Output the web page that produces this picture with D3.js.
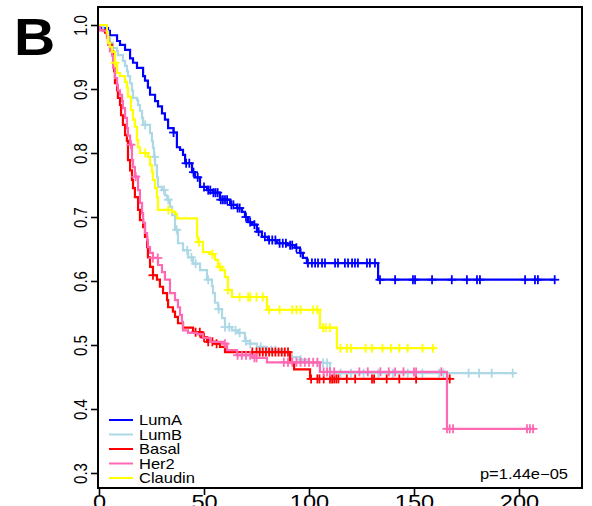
<!DOCTYPE html>
<meta charset="utf-8" />
<style>
  body {
    margin: 0px;
    padding: 0px;
    background: #fff;
  }
  svg {
    display: block;
    font-family: "Liberation Sans", Arial, sans-serif;
  }
  .curve {
    fill: none;
    stroke-width: 2.2px;
  }
  .censor {
    stroke-width: 1.8px;
  }
</style>

<svg width="592" height="506"></svg>

<script src="https://d3js.org/d3.v7.min.js"></script>
<script>
  // step points [months, survival]
  const lumA = [[0,1],[0.5,0.995],[4.3,0.991],[5.2,0.984],[8.6,0.975],[10,0.969],[12.4,0.961],[14.8,0.948],[16.2,0.941],[18.1,0.933],[21,0.92],[21.9,0.913],[23.3,0.902],[24.3,0.891],[26.7,0.881],[28.1,0.873],[30,0.862],[31.4,0.852],[32.9,0.839],[35.5,0.832],[37.1,0.809],[38.6,0.805],[40,0.797],[41,0.784],[44.3,0.77],[45.7,0.762],[48.1,0.747],[51.4,0.742],[54.3,0.738],[57.6,0.727],[62.4,0.719],[65.7,0.714],[68.1,0.708],[69.5,0.7],[71,0.692],[72.9,0.688],[75.2,0.677],[77.6,0.669],[80.5,0.664],[84.8,0.659],[89.5,0.656],[93.3,0.652],[95.7,0.644],[97.1,0.636],[99,0.628],[132.9,0.602]];
  const lumACensor = [35.5,41.5,43,45,47,50,52,53,54.5,55.5,56.5,58,59,60,61,63,64,66,67,70,72,74,76,79,81,82.5,84,86,87.5,89,91,92,94,96,99.5,101.4,102.9,104.3,106.2,107.6,112.4,113.8,117.1,118.6,120.5,121.9,123.3,127.6,129,131.4,133.8,141,149.5,150.5,158.6,168,175.2,180,181.4,202.9,207.6,209,217];

  const lumB = [[0,1],[2,0.99],[4.3,0.98],[5.2,0.972],[6.7,0.964],[8.6,0.959],[9,0.953],[11.4,0.944],[12.4,0.936],[13.3,0.928],[13.8,0.92],[14.8,0.909],[15.7,0.898],[16.2,0.886],[18.1,0.883],[18.6,0.875],[19.5,0.866],[20.5,0.855],[21,0.844],[24.3,0.831],[25.2,0.819],[25.7,0.808],[26.2,0.794],[26.7,0.781],[27.6,0.762],[28.1,0.747],[30,0.742],[31.4,0.734],[32.4,0.727],[33.8,0.716],[34.8,0.703],[36.2,0.68],[37.6,0.659],[40,0.648],[42.4,0.637],[44.8,0.627],[48.1,0.617],[51.4,0.602],[53.8,0.592],[54.3,0.581],[55.2,0.566],[56.7,0.556],[58.6,0.542],[60,0.528],[63.3,0.523],[66.2,0.519],[69.5,0.506],[71.9,0.502],[75.2,0.497],[80,0.492],[86.2,0.488],[91,0.481],[95.7,0.477],[100,0.472],[110,0.456]];
  const lumBCensor = [22,26.5,31,33,37,42,44,46,52,57,60,62,65,67,70,72,77,82,84,88,92,96,104,106.7,108.6,115,120,126,133,140,147,154,162,164,176,181,187,197];

  const basal = [[0,1],[0.5,0.992],[2.9,0.988],[3.8,0.983],[4.3,0.972],[5.2,0.969],[6.2,0.959],[6.7,0.944],[7.2,0.928],[7.6,0.909],[8.6,0.898],[9,0.886],[10,0.875],[10.5,0.859],[11.4,0.844],[12.4,0.828],[13.3,0.819],[13.8,0.789],[14.8,0.773],[15.7,0.758],[16.2,0.745],[17.1,0.731],[18.6,0.711],[19.5,0.695],[21,0.684],[21.9,0.669],[22.9,0.653],[23.3,0.637],[24.3,0.622],[25.7,0.609],[27.6,0.602],[29,0.591],[30.5,0.581],[32.4,0.57],[32.9,0.559],[35.2,0.552],[36.2,0.544],[37.6,0.534],[40,0.527],[44.8,0.52],[49,0.512],[51.4,0.505],[55.2,0.502],[57.6,0.497],[60,0.489],[91,0.473],[92.9,0.462],[100.5,0.447]];
  const basalCensor = [25.7,46,48,50,52,54,56,73,75,76.5,78,79.5,81,82.5,84,85.5,87,88.5,90,101,104,105,107,110,111,112,113,114,118,122,130,131,137,143,151,167];

  const her2 = [[0,1],[0.5,0.992],[1.9,0.991],[3.8,0.98],[4.3,0.969],[5.2,0.959],[6.2,0.952],[6.7,0.933],[7.6,0.917],[8.6,0.906],[9,0.898],[10,0.891],[11,0.881],[11.4,0.87],[12.4,0.855],[13.3,0.839],[13.8,0.827],[14.8,0.813],[15.7,0.789],[16.2,0.778],[17.1,0.763],[18.6,0.742],[19.5,0.722],[20.5,0.706],[21,0.691],[21.9,0.675],[22.9,0.664],[23.3,0.653],[24.3,0.644],[25.7,0.636],[28.1,0.625],[30,0.614],[31.4,0.602],[33.8,0.581],[36.2,0.57],[37.6,0.559],[38.6,0.547],[39.5,0.536],[40,0.523],[42.4,0.519],[46.7,0.517],[49.5,0.511],[52.9,0.505],[59,0.502],[61,0.492],[65.7,0.484],[73.3,0.48],[80,0.473],[105.2,0.458],[165.7,0.369]];
  const her2Censor = [15.2,17.5,25.7,28,60,66,68,70,72,74,75,88,90,92,94,96,98,100,102,104,107,108.6,110,112,124,128,134,138,141,145,150,151,163,165.7,167,168.6,203.8,205.2,206.7];

  const claudin = [[0,1],[3.8,0.988],[4.3,0.972],[5.2,0.966],[6.2,0.958],[7.6,0.941],[8.6,0.925],[10,0.92],[12.4,0.911],[13.3,0.902],[13.8,0.888],[15.2,0.867],[16.2,0.852],[17.1,0.841],[18.1,0.82],[18.6,0.809],[19.5,0.8],[23.3,0.794],[24.3,0.781],[25.2,0.77],[25.7,0.758],[26.7,0.745],[27.6,0.731],[28.1,0.711],[34.8,0.708],[36.2,0.705],[37.1,0.698],[46.7,0.669],[47.1,0.661],[49.5,0.645],[52.9,0.642],[55.2,0.633],[56.7,0.622],[58.6,0.617],[60,0.606],[61.4,0.586],[63.3,0.575],[80,0.555],[105.2,0.527],[113.3,0.495]];
  const claudinCensor = [7.6,22,33,47.6,54,57.6,61.4,67,71,72,75,78,81,86,92,94,96,102,104,106.7,108,110,115,118,120,127,130,135,139,143,147,154,159];

  const groups = ["LumA", "LumB", "Basal", "Her2", "Claudin"];
  const colors = ["#0000ff", "#add8e6", "#ff0000", "#ff69b4", "#ffff00"];
  const lastTimes = [217, 198, 167.6, 207.6, 160];
  const xTicks = [0, 50, 100, 150, 200];
  const yTicks = [0.3, 0.4, 0.5, 0.6, 0.7, 0.8, 0.9, 1.0];
  const pText = "p=1.44e\u221205";

  const curves = [
    { steps: lumA, censor: lumACensor },
    { steps: lumB, censor: lumBCensor },
    { steps: basal, censor: basalCensor },
    { steps: her2, censor: her2Censor },
    { steps: claudin, censor: claudinCensor },
  ];

  const svg = d3.select("svg");
  const boxLeft = 98, boxTop = 7, boxRight = 582, boxBottom = 488;
  const stretch = 1.18; // the original is a bit wider than tall

  const x = d3.scaleLinear().domain([0, 230]).range([99, 582]);
  const y = d3.scaleLinear().domain([0.3, 1.0]).range([473, 25]);

  // survival at time t
  function survAt(steps, t) {
    let s = steps[0][1];
    for (const p of steps) {
      if (p[0] <= t) s = p[1];
    }
    return s;
  }

  const line = d3
    .line()
    .x((d) => x(d[0]))
    .y((d) => y(d[1]))
    .curve(d3.curveStepAfter);

  const plot = svg.append("g");

  curves.forEach((c, i) => {
    const pts = c.steps.concat([[lastTimes[i], c.steps[c.steps.length - 1][1]]]);
    plot.append("path").attr("class", "curve").attr("stroke", colors[i]).attr("d", line(pts));

    const g = plot.append("g").attr("class", "censor").attr("stroke", colors[i]);
    c.censor.forEach((t) => {
      const cx = x(t), cy = y(survAt(c.steps, t));
      g.append("line").attr("x1", cx - 4.5).attr("x2", cx + 4.5).attr("y1", cy).attr("y2", cy);
      g.append("line").attr("x1", cx).attr("x2", cx).attr("y1", cy - 4.5).attr("y2", cy + 4.5);
    });
  });

  // box
  svg
    .append("rect")
    .attr("x", boxLeft)
    .attr("y", boxTop)
    .attr("width", boxRight - boxLeft)
    .attr("height", boxBottom - boxTop)
    .attr("fill", "none")
    .attr("stroke", "#000")
    .attr("stroke-width", 2);

  // y axis
  const yAxis = svg
    .append("g")
    .attr("transform", `translate(${boxLeft},0)`)
    .call(d3.axisLeft(y).tickValues(yTicks).tickSize(7).tickFormat(d3.format(".1f")));
  yAxis.select(".domain").remove();
  yAxis.selectAll(".tick line").attr("stroke-width", 1.6);
  yAxis
    .selectAll(".tick text")
    .attr("x", null)
    .attr("dy", null)
    .attr("text-anchor", "middle")
    .attr("transform", `translate(-11,0) scale(${stretch},1) rotate(-90)`)
    .style("font-size", "15px")
    .style("font-family", "'Liberation Sans', Arial, sans-serif")
    .attr("fill", "#000");

  // x axis
  const xAxis = svg
    .append("g")
    .attr("transform", `translate(0,${boxBottom})`)
    .call(d3.axisBottom(x).tickValues(xTicks).tickSize(7));
  xAxis.select(".domain").remove();
  xAxis.selectAll(".tick line").attr("stroke-width", 1.6);
  xAxis
    .selectAll(".tick text")
    .attr("y", null)
    .attr("dy", null)
    .attr("transform", `translate(0,21) scale(${stretch},1)`)
    .style("font-size", "20px")
    .style("font-family", "'Liberation Sans', Arial, sans-serif")
    .attr("fill", "#000");

  // legend
  const legend = svg.append("g").attr("transform", "translate(109,420)");
  groups.forEach((name, i) => {
    const ly = i * 14.5;
    legend
      .append("line")
      .attr("x1", 0)
      .attr("x2", 24)
      .attr("y1", ly)
      .attr("y2", ly)
      .attr("stroke", colors[i])
      .attr("stroke-width", 2);
    legend
      .append("text")
      .attr("transform", `translate(30,${ly + 5}) scale(${stretch},1)`)
      .style("font-size", "14px")
      .text(name);
  });

  svg
    .append("text")
    .attr("transform", `translate(568,479) scale(${stretch},1)`)
    .attr("text-anchor", "end")
    .style("font-size", "14px")
    .text(pText);

  svg
    .append("text")
    .attr("transform", "translate(14,55) scale(1.12,1)")
    .style("font-size", "51px")
    .style("font-weight", "bold")
    .text("B");
</script>
